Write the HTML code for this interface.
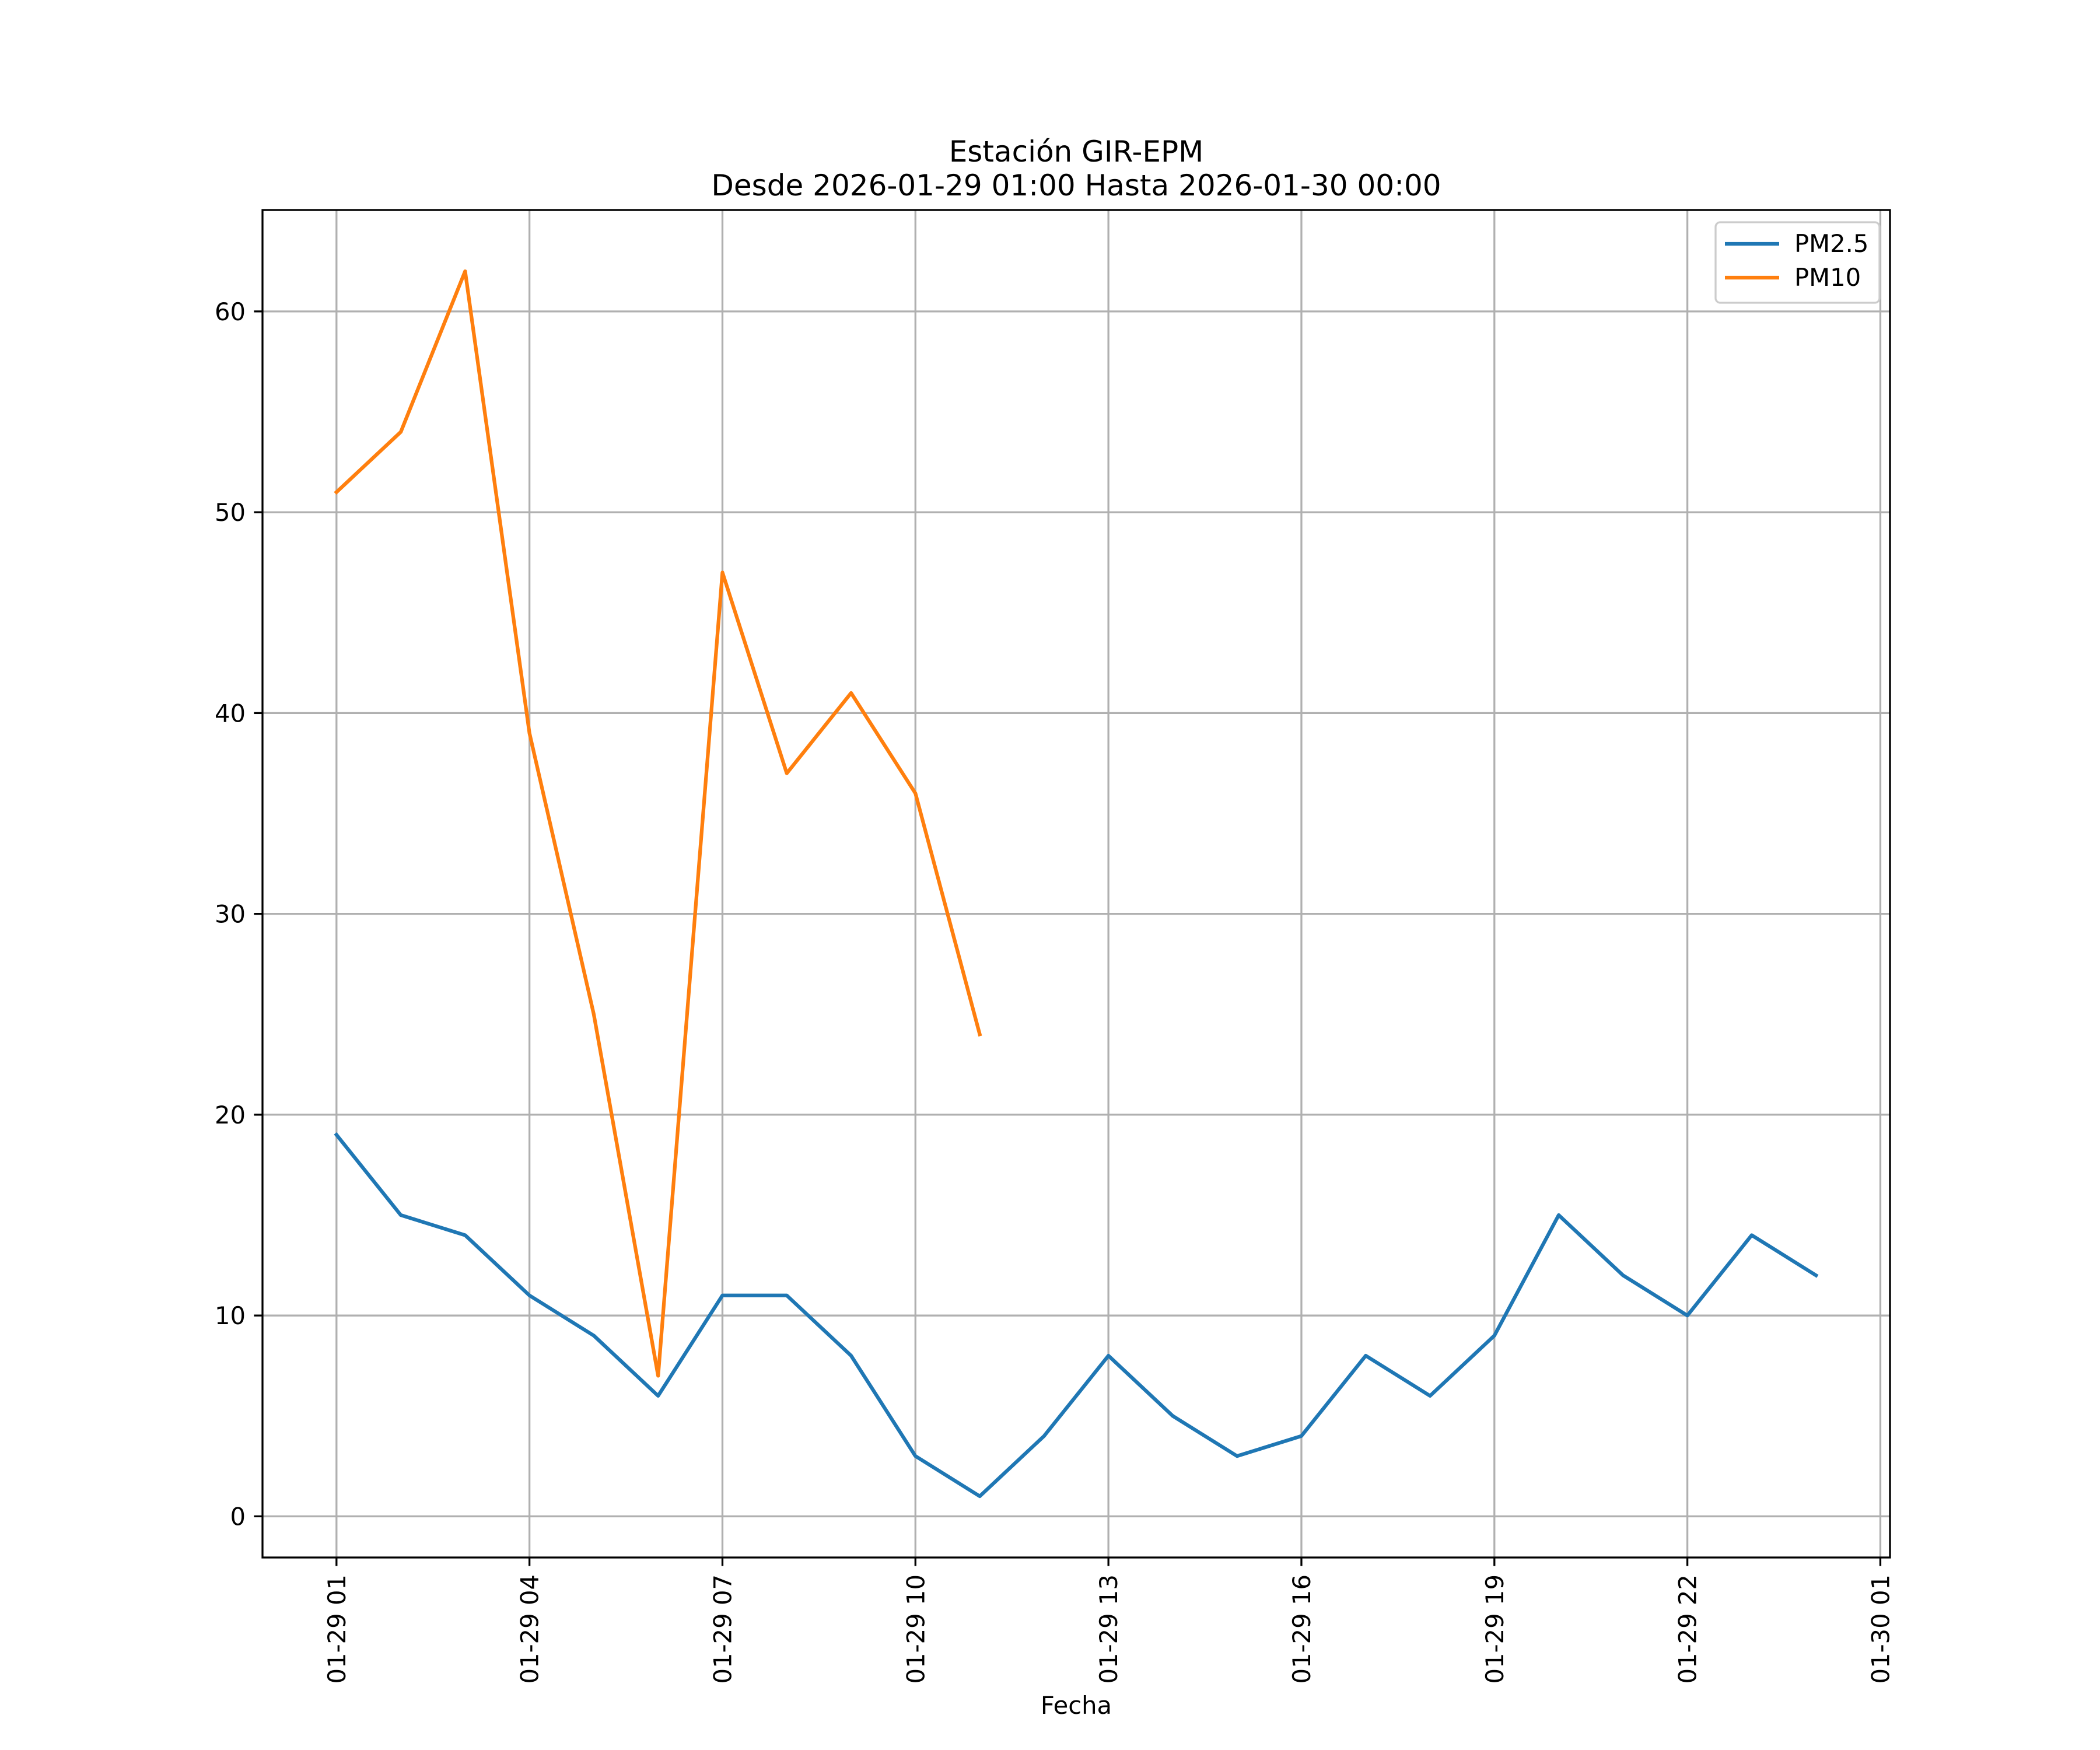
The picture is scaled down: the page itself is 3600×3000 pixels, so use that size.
<!DOCTYPE html>
<html><head><meta charset="utf-8"><style>
html,body{margin:0;padding:0;background:#fff}
svg{display:block;font-family:"DejaVu Sans","Liberation Sans",sans-serif}
</style></head><body>
<svg id="chart" width="3600" height="3000" viewBox="0 0 3600 3000" xmlns="http://www.w3.org/2000/svg">
<rect width="3600" height="3000" fill="#fff"/>
<text x="1845" y="277" font-size="50" text-anchor="middle">Estación GIR-EPM</text>
<text x="1845" y="335" font-size="50" text-anchor="middle">Desde 2026-01-29 01:00 Hasta 2026-01-30 00:00</text>
<g id="grid"></g>
<g id="series"></g>
<rect x="450" y="360" width="2790" height="2310" fill="none" stroke="#000" stroke-width="3.3"/>
<g id="ticks"></g>
<text x="1845" y="2938" font-size="41.7" text-anchor="middle">Fecha</text>
<g>
<rect x="2941" y="381" width="281" height="138" rx="8" fill="#fff" fill-opacity="0.8" stroke="#ccc" stroke-width="3.3"/>
<line x1="2957" y1="418" x2="3050" y2="418" stroke="#1f77b4" stroke-width="6.25"/>
<text x="3076" y="432" font-size="41.7">PM2.5</text>
<line x1="2957" y1="476" x2="3050" y2="476" stroke="#ff7f0e" stroke-width="6.25"/>
<text x="3076" y="490" font-size="41.7">PM10</text>
</g>
</svg>
<script>
const hours = [1,2,3,4,5,6,7,8,9,10,11,12,13,14,15,16,17,18,19,20,21,22,23,24];
const pm25 = [19,15,14,11,9,6,11,11,8,3,1,4,8,5,3,4,8,6,9,15,12,10,14,12];
const pm10 = [51,54,62,39,25,7,47,37,41,36,24];
const yTicks = [0,10,20,30,40,50,60];
const xTickHours = [1,4,7,10,13,16,19,22,25];
const xTickLabels = ["01-29 01","01-29 04","01-29 07","01-29 10","01-29 13","01-29 16","01-29 19","01-29 22","01-30 01"];

const NS="http://www.w3.org/2000/svg";
const X0=450,X1=3240,Y0=2670,Y1=360;
const xmin=-0.15,xmax=25.15,ymin=-2.05,ymax=65.05;
function xs(h){return X0+(h-xmin)/(xmax-xmin)*(X1-X0);}
function ys(v){return Y0-(v-ymin)/(ymax-ymin)*(Y0-Y1);}
function mk(tag,attrs,parent){const e=document.createElementNS(NS,tag);for(const k in attrs)e.setAttribute(k,attrs[k]);parent.appendChild(e);return e;}
const grid=document.getElementById('grid'),ticks=document.getElementById('ticks'),series=document.getElementById('series');
yTicks.forEach(v=>{
  const y=ys(v);
  const g=mk('line',{x1:X0,x2:X1,y1:y,y2:y,stroke:'#b0b0b0','stroke-width':3.3},grid);
  
  
  const t=mk('line',{x1:X0-14.6,x2:X0,y1:y,y2:y,stroke:'#000','stroke-width':3.3},ticks);
  
  
  const l=mk('text',{x:X0-29,y:y+15,'font-size':41.7,'text-anchor':'end'},ticks);
  l.textContent=v;
  
  
});
xTickHours.forEach((h,i)=>{
  const x=xs(h);
  const g=mk('line',{x1:x,x2:x,y1:Y1,y2:Y0,stroke:'#b0b0b0','stroke-width':3.3},grid);
  
  
  const t=mk('line',{x1:x,x2:x,y1:Y0,y2:Y0+14.6,stroke:'#000','stroke-width':3.3},ticks);
  
  
  const l=mk('text',{x:0,y:0,'font-size':41.7,'text-anchor':'end',transform:`translate(${x+15},${Y0+29}) rotate(-90)`},ticks);
  l.textContent=xTickLabels[i];
  
  
});
function line(vals,color,name){
  const p=vals.map((v,i)=>xs(hours[i])+','+ys(v)).join(' ');
  const e=mk('polyline',{points:p,fill:'none',stroke:color,'stroke-width':6.25,'stroke-linejoin':'round','stroke-linecap':'square'},series);
  
  
}
line(pm25,'#1f77b4','pm25-line');
line(pm10,'#ff7f0e','pm10-line');
</script>
</body></html>
